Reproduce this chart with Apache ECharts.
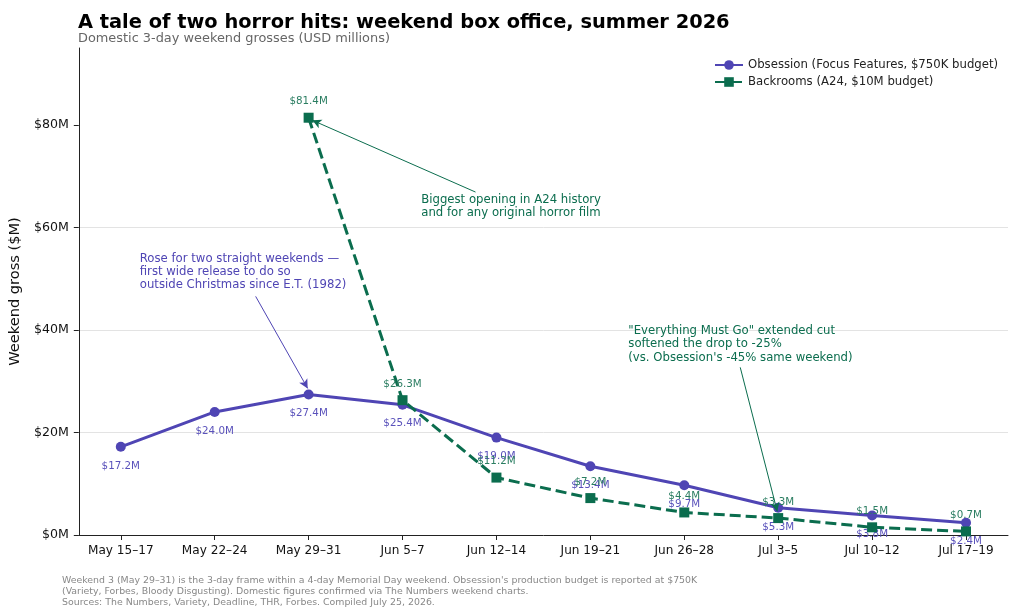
<!DOCTYPE html>
<html>
<head>
<meta charset="utf-8">
<script src="https://cdn.jsdelivr.net/npm/echarts@6/dist/echarts.min.js"></script>
<style>
html,body{margin:0;padding:0;background:#fff;}
#chart{width:1023px;height:614px;}
</style>
</head>
<body>
<div id="chart"></div>
<script>
const categories = ["May 15\u201317","May 22\u201324","May 29\u201331","Jun 5\u20137","Jun 12\u201314","Jun 19\u201321","Jun 26\u201328","Jul 3\u20135","Jul 10\u201312","Jul 17\u201319"];
const obsession = [17.2, 24.0, 27.4, 25.4, 19.0, 13.4, 9.7, 5.3, 3.8, 2.4];
const backrooms = [null, null, 81.4, 26.3, 11.2, 7.2, 4.4, 3.3, 1.5, 0.7];
const yTicks = [0, 20, 40, 60, 80];
const seriesNames = ["Obsession (Focus Features, $750K budget)", "Backrooms (A24, $10M budget)"];

const PURPLE = "#4f45b4";
const GREEN = "#0b6d4e";
const FONT = "DejaVu Sans";

function pairs(arr){
  const out = [];
  arr.forEach((v,i)=>{ if(v!==null) out.push([i,v]); });
  return out;
}
const idx = categories.map((c,i)=>i);

const chart = echarts.init(document.getElementById('chart'), null, {renderer:'canvas'});
chart.setOption({
  backgroundColor:'#fff',
  animation:false,
  textStyle:{fontFamily:FONT},
  title:[
    {text:"A tale of two horror hits: weekend box office, summer 2026", left:78, top:13, padding:0,
     textStyle:{fontFamily:FONT, fontSize:19.4, fontWeight:'bold', color:'#000'}},
    {text:"Domestic 3-day weekend grosses (USD millions)", left:78, top:32, padding:0,
     textStyle:{fontFamily:FONT, fontSize:12.9, fontWeight:'normal', color:'#666'}},
    {text:"Weekend 3 (May 29\u201331) is the 3-day frame within a 4-day Memorial Day weekend. Obsession's production budget is reported at $750K\n(Variety, Forbes, Bloody Disgusting). Domestic figures confirmed via The Numbers weekend charts.\nSources: The Numbers, Variety, Deadline, THR, Forbes. Compiled July 25, 2026.",
     left:62, top:575, padding:0,
     textStyle:{fontFamily:FONT, fontSize:9.4, fontWeight:'normal', color:'#888', lineHeight:11}}
  ],
  legend:{
    orient:'vertical', left:714, top:59, padding:0, itemGap:5, itemWidth:28, itemHeight:12,
    textStyle:{fontFamily:FONT, fontSize:11.7, color:'#222'},
    data:seriesNames
  },
  grid:{left:78, right:15, top:48, bottom:79, containLabel:false},
  xAxis:{
    type:'value', min:-0.447, max:9.447,
    axisLine:{show:true, onZero:false, lineStyle:{color:'#222', width:1}},
    axisTick:{show:true, length:5, lineStyle:{color:'#222'}, customValues:idx},
    axisLabel:{customValues:idx, formatter:v=>categories[Math.round(v)], fontFamily:FONT, fontSize:12.1, color:'#111', margin:10},
    splitLine:{show:false}
  },
  yAxis:{
    type:'value', min:0, max:95, interval:20,
    name:"Weekend gross ($M)", nameLocation:'middle', nameGap:51,
    nameTextStyle:{fontFamily:FONT, fontSize:14.6, color:'#111'},
    axisLine:{show:true, onZero:false, lineStyle:{color:'#222', width:1}},
    axisTick:{show:true, length:5, lineStyle:{color:'#222'}, customValues:yTicks},
    axisLabel:{customValues:yTicks, formatter:v=>'$'+v+'M', fontFamily:FONT, fontSize:12.6, color:'#111', margin:10},
    splitLine:{show:true, showMinLine:false, showMaxLine:false, lineStyle:{color:'#e3e3e3', width:1}}
  },
  series:[
    {
      name:seriesNames[0], type:'line', data:pairs(obsession),
      symbol:'circle', symbolSize:10,
      itemStyle:{color:PURPLE},
      lineStyle:{color:PURPLE, width:3},
      label:{show:true, position:'bottom', distance:9, formatter:p=>'$'+p.value[1].toFixed(1)+'M',
             fontFamily:FONT, fontSize:10.3, color:'#5a52bb'},
      z:3,
      markLine:{
        silent:true, symbol:['none','arrow'], symbolSize:[7,9],
        label:{show:false},
        lineStyle:{color:PURPLE, width:1, type:'solid'},
        data:[[{coord:[1.436,46.55]},{coord:[1.99,28.6]}]]
      },
      markPoint:{
        silent:true, symbol:'rect', symbolSize:0,
        data:[{coord:[0.202,55.2], value:0}],
        label:{show:true, position:[0,0], align:'left', verticalAlign:'top',
               formatter:"Rose for two straight weekends \u2014\nfirst wide release to do so\noutside Christmas since E.T. (1982)",
               fontFamily:FONT, fontSize:11.7, lineHeight:13.3, color:PURPLE}
      }
    },
    {
      name:seriesNames[1], type:'line', data:pairs(backrooms),
      symbol:'rect', symbolSize:10,
      itemStyle:{color:GREEN},
      lineStyle:{color:GREEN, width:3, type:[11,5]},
      label:{show:true, position:'top', distance:6, formatter:p=>'$'+p.value[1].toFixed(1)+'M',
             fontFamily:FONT, fontSize:10.3, color:'#2a7d61'},
      z:4,
      markLine:{
        silent:true, symbol:['none','arrow'], symbolSize:[7,9],
        label:{show:false},
        lineStyle:{color:GREEN, width:1, type:'solid'},
        data:[
          [{coord:[3.777,66.9]},{coord:[2.04,80.9]}],
          [{coord:[6.596,32.7]},{coord:[6.99,4.6]}]
        ]
      },
      markPoint:{
        silent:true, symbol:'rect', symbolSize:0,
        data:[
          {coord:[3.199,66.7], value:0, label:{formatter:"Biggest opening in A24 history\nand for any original horror film"}},
          {coord:[5.404,41.1], value:0, label:{formatter:"\"Everything Must Go\" extended cut\nsoftened the drop to -25%\n(vs. Obsession's -45% same weekend)"}}
        ],
        label:{show:true, position:[0,0], align:'left', verticalAlign:'top',
               fontFamily:FONT, fontSize:11.7, lineHeight:13.3, color:GREEN}
      }
    }
  ]
});
</script>
</body>
</html>
